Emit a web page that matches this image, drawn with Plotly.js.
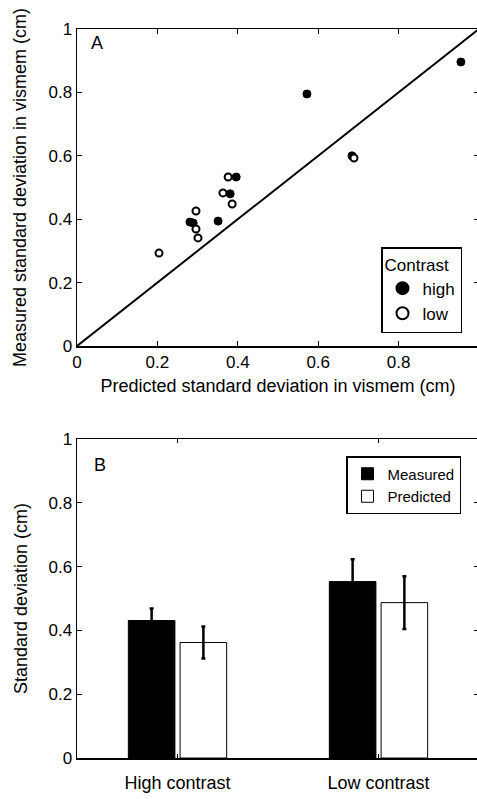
<!DOCTYPE html>
<html><head><meta charset="utf-8">
<script src="https://cdn.plot.ly/plotly-3.0.1.min.js"></script>
<style>html,body{margin:0;padding:0;overflow:hidden;background:#fff}</style>
</head><body><div id="chart" style="width:479px;height:799px"></div>
<script>
// Panel A: predicted vs measured SD (cm)
const highPredicted = [0.281, 0.289, 0.351, 0.381, 0.396, 0.572, 0.684, 0.955];
const highMeasured  = [0.391, 0.388, 0.394, 0.480, 0.533, 0.795, 0.600, 0.896];
const lowPredicted  = [0.204, 0.296, 0.296, 0.301, 0.363, 0.386, 0.376, 0.689];
const lowMeasured   = [0.293, 0.426, 0.369, 0.341, 0.483, 0.448, 0.533, 0.593];
const identityLine  = [0, 1];

// Panel B: mean SD (cm) with error bars
const categories    = ["High contrast", "Low contrast"];
const measuredMean  = [0.431, 0.553];
const measuredErr   = [0.038, 0.070];
const predictedMean = [0.362, 0.487];
const predictedErr  = [0.050, 0.083];

const xTicks = [0, 0.2, 0.4, 0.6, 0.8, 1];
const xTickText = ["0", "0.2", "0.4", "0.6", "0.8", "1"];

const FAM = "Liberation Sans, Arial, sans-serif";
const TICKF = {family: FAM, size: 17, color: "#000"};
const TITLEF = {family: FAM, size: 18, color: "#000"};
const W = 479, H = 799;

const traces = [
  {x: identityLine, y: identityLine, mode: "lines", line: {color: "#000", width: 2},
   xaxis: "x", yaxis: "y", showlegend: false, hoverinfo: "skip"},
  {x: highPredicted, y: highMeasured, mode: "markers", name: "high",
   marker: {symbol: "circle", size: 8, color: "#000", line: {color: "#000", width: 1}},
   xaxis: "x", yaxis: "y", legend: "legend"},
  {x: lowPredicted, y: lowMeasured, mode: "markers", name: "low",
   marker: {symbol: "circle", size: 7, color: "#fff", line: {color: "#000", width: 2}},
   xaxis: "x", yaxis: "y", legend: "legend"},
  {type: "bar", x: categories, y: measuredMean, name: "Measured",
   marker: {color: "#000", line: {color: "#000", width: 1}},
   error_y: {type: "data", array: measuredErr, visible: true, color: "#000", thickness: 2.5, width: 2},
   xaxis: "x2", yaxis: "y2", legend: "legend2"},
  {type: "bar", x: categories, y: predictedMean, name: "Predicted",
   marker: {color: "#fff", line: {color: "#000", width: 1}},
   error_y: {type: "data", array: predictedErr, visible: true, color: "#000", thickness: 2.5, width: 2},
   xaxis: "x2", yaxis: "y2", legend: "legend2"}
];

const axisCommon = {
  showline: true, linecolor: "#000", linewidth: 1.5, mirror: "ticks",
  ticks: "inside", ticklen: 5, tickwidth: 1, tickcolor: "#000",
  showgrid: false, zeroline: false, tickfont: TICKF, automargin: false
};

const layout = {
  width: W, height: H,
  margin: {l: 0, r: 0, t: 0, b: 0},
  paper_bgcolor: "#fff", plot_bgcolor: "#fff",
  font: TICKF,
  barmode: "group", bargap: 0.485, bargroupgap: 0.1,
  xaxis: Object.assign({}, axisCommon, {
    domain: [77 / W, 1], range: [0, 1], anchor: "y",
    tickvals: xTicks, ticktext: xTickText,
    title: {text: "Predicted standard deviation in vismem (cm)", font: TITLEF, standoff: 8}
  }),
  yaxis: Object.assign({}, axisCommon, {
    domain: [1 - 346 / H, 1 - 29 / H], range: [0, 1], anchor: "x",
    tickvals: xTicks, ticktext: xTickText,
    title: {text: "Measured standard deviation in vismem (cm)", font: TITLEF, standoff: 17}
  }),
  xaxis2: Object.assign({}, axisCommon, {
    domain: [77 / W, 1], anchor: "y2", type: "category", range: [-0.5, 1.5],
    ticklen: 4, tickfont: TITLEF, ticklabelstandoff: 8, title: {text: ""}
  }),
  yaxis2: Object.assign({}, axisCommon, {
    domain: [1 - 758 / H, 1 - 439 / H], range: [0, 1], anchor: "x2",
    tickvals: xTicks, ticktext: xTickText,
    title: {text: "Standard deviation (cm)", font: TITLEF, standoff: 16}
  }),
  legend: {
    x: 462 / W, xanchor: "right", y: 1 - 333 / H, yanchor: "bottom",
    bgcolor: "#fff", bordercolor: "#000", borderwidth: 1.5,
    font: TICKF, title: {text: "Contrast", font: TICKF, side: "top"},
    itemsizing: "constant", tracegroupgap: 0, itemwidth: 30
  },
  legend2: {
    x: 461 / W, xanchor: "right", y: 1 - 456 / H, yanchor: "top",
    bgcolor: "#fff", bordercolor: "#000", borderwidth: 1.5,
    font: {family: FAM, size: 15, color: "#000"}, tracegroupgap: 0, itemwidth: 30
  },
  annotations: [
    {text: "A", xref: "paper", yref: "paper", x: 97 / W, y: 1 - 43 / H,
     xanchor: "center", yanchor: "middle", showarrow: false, font: TITLEF},
    {text: "B", xref: "paper", yref: "paper", x: 100 / W, y: 1 - 465 / H,
     xanchor: "center", yanchor: "middle", showarrow: false, font: TITLEF}
  ]
};

Plotly.newPlot("chart", traces, layout, {staticPlot: true, displayModeBar: false});
</script>
</body></html>
